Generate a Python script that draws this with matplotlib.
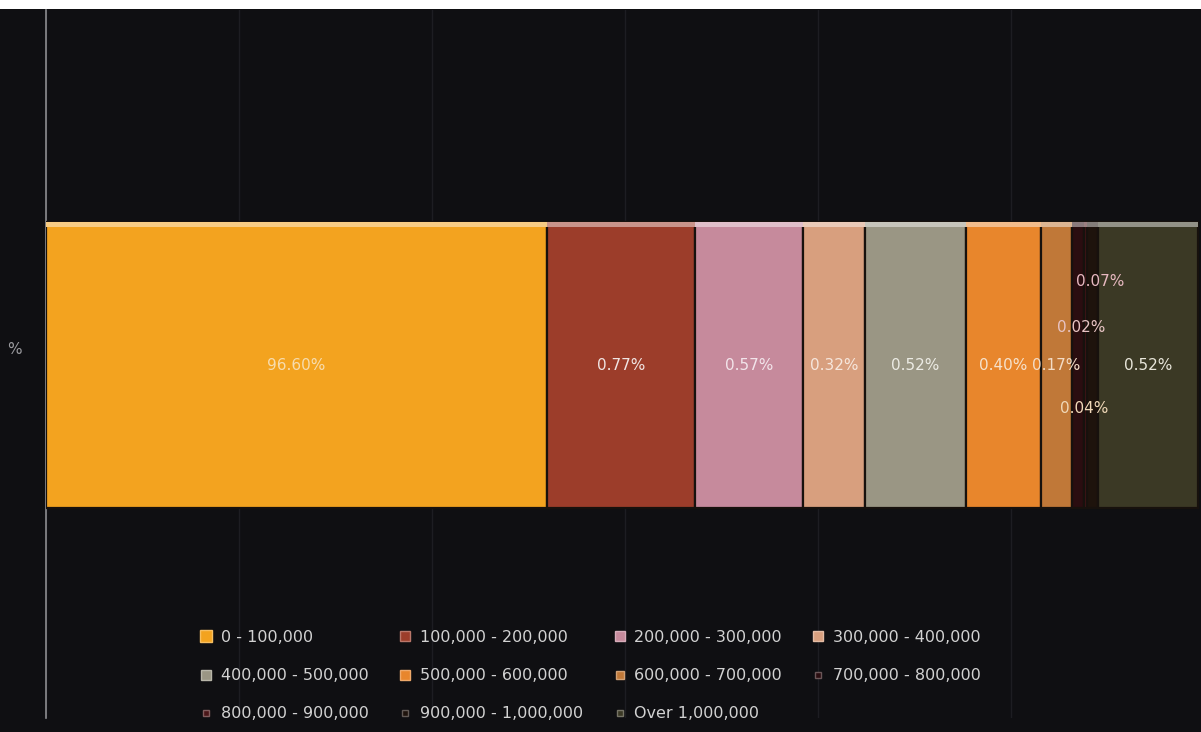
import matplotlib.pyplot as plt
from matplotlib.patches import Rectangle
from matplotlib.lines import Line2D
import matplotlib.colors as mcolors

# income bands, share labels and segment widths as drawn in the original chart
bands = ['0 - 100,000', '100,000 - 200,000', '200,000 - 300,000', '300,000 - 400,000',
         '400,000 - 500,000', '500,000 - 600,000', '600,000 - 700,000', '700,000 - 800,000',
         '800,000 - 900,000', '900,000 - 1,000,000', 'Over 1,000,000']
shares = [96.60, 0.77, 0.57, 0.32, 0.52, 0.40, 0.17, 0.07, 0.02, 0.04, 0.52]
# the original does not scale segments to the share; widths
drawn_widths = [501, 148, 108, 62, 101, 75, 31, 12, 3, 11, 100]

colors = ['#f3a31f', '#9c3d2a', '#c68a9c', '#d89f7e', '#9a9684', '#e8862c',
          '#c07838', '#2a0d10', '#4a1618', '#1e130c', '#3b3925']
label_colors = ['#f7dcae', '#f0e4e2', '#f2e4ea', '#f6e6dc', '#ecebe4', '#f6e2cc',
                '#f3dcc6', '#e7b8c0', '#e8c4c4', '#f0d8b8', '#e8e6da']
# nudges for labels of the very thin segments (points)
label_offsets = {7: (16, 60), 8: (-3, 27), 9: (-6, -31)}


def lighten(c, k):
    r = mcolors.to_rgb(c)
    return tuple(v + (1 - v) * k for v in r)


bg = '#0f0f12'
fig = plt.figure(figsize=(12.01, 7.32), dpi=100, facecolor=bg)
fig.patches.append(Rectangle((0, 1 - 9 / 732), 1, 9 / 732, transform=fig.transFigure,
                             facecolor='white', edgecolor='none', zorder=0))

ax = fig.add_axes([46 / 1201, 14 / 732, 1155 / 1201, 708 / 732])
ax.set_facecolor(bg)

left = 0
for i, (w, c) in enumerate(zip(drawn_widths, colors)):
    ax.barh(0, w, left=left, height=1.0, color=c, edgecolor='#17110d', linewidth=1.6, zorder=3)
    # bevel highlight along the top edge
    ax.barh(0.5 - 0.009, w, left=left, height=0.018, color=lighten(c, 0.45),
            edgecolor='none', zorder=4)
    dx, dy = label_offsets.get(i, (0, 0))
    ax.annotate(f'{shares[i]:.2f}%', (left + w / 2, 0), xytext=(dx, dy),
                textcoords='offset points', ha='center', va='center',
                fontsize=11, color=label_colors[i], zorder=5)
    left += w

ax.set_xlim(0, 1155)
ax.set_ylim(-1.234, 1.241)

ax.set_xticks(range(0, 1155, 193))
ax.grid(axis='x', color='#1d1d22', linewidth=1, zorder=1)
ax.tick_params(left=False, bottom=False, labelleft=False, labelbottom=False)
for s in ['top', 'right', 'bottom']:
    ax.spines[s].set_visible(False)
ax.spines['left'].set_color('#8c8c90')
ax.spines['left'].set_linewidth(1.2)

fig.text(14 / 1201, 1 - 350 / 732, '%', color='#9a9a9e', fontsize=11,
         ha='center', va='center')

marker_sizes = [8, 7, 7, 7, 7, 7, 6, 5, 5, 5, 5]
handles = [Line2D([], [], marker='s', linestyle='none', markersize=ms,
                  markerfacecolor=c, markeredgecolor=lighten(c, 0.3))
           for c, ms in zip(colors, marker_sizes)]
# matplotlib fills legend columns first; reorder so entries read across rows
order = [0, 4, 8, 1, 5, 9, 2, 6, 10, 3, 7]
leg = fig.legend([handles[k] for k in order], [bands[k] for k in order], ncol=4,
                 loc='upper left', bbox_to_anchor=(192 / 1201, 1 - 622 / 732),
                 frameon=False, fontsize=11.5, labelcolor='#d2d2d2', handlelength=0.8,
                 handletextpad=0.5, columnspacing=1.9, labelspacing=1.45,
                 borderpad=0)

fig.savefig('out.png', dpi=100, facecolor=fig.get_facecolor())
